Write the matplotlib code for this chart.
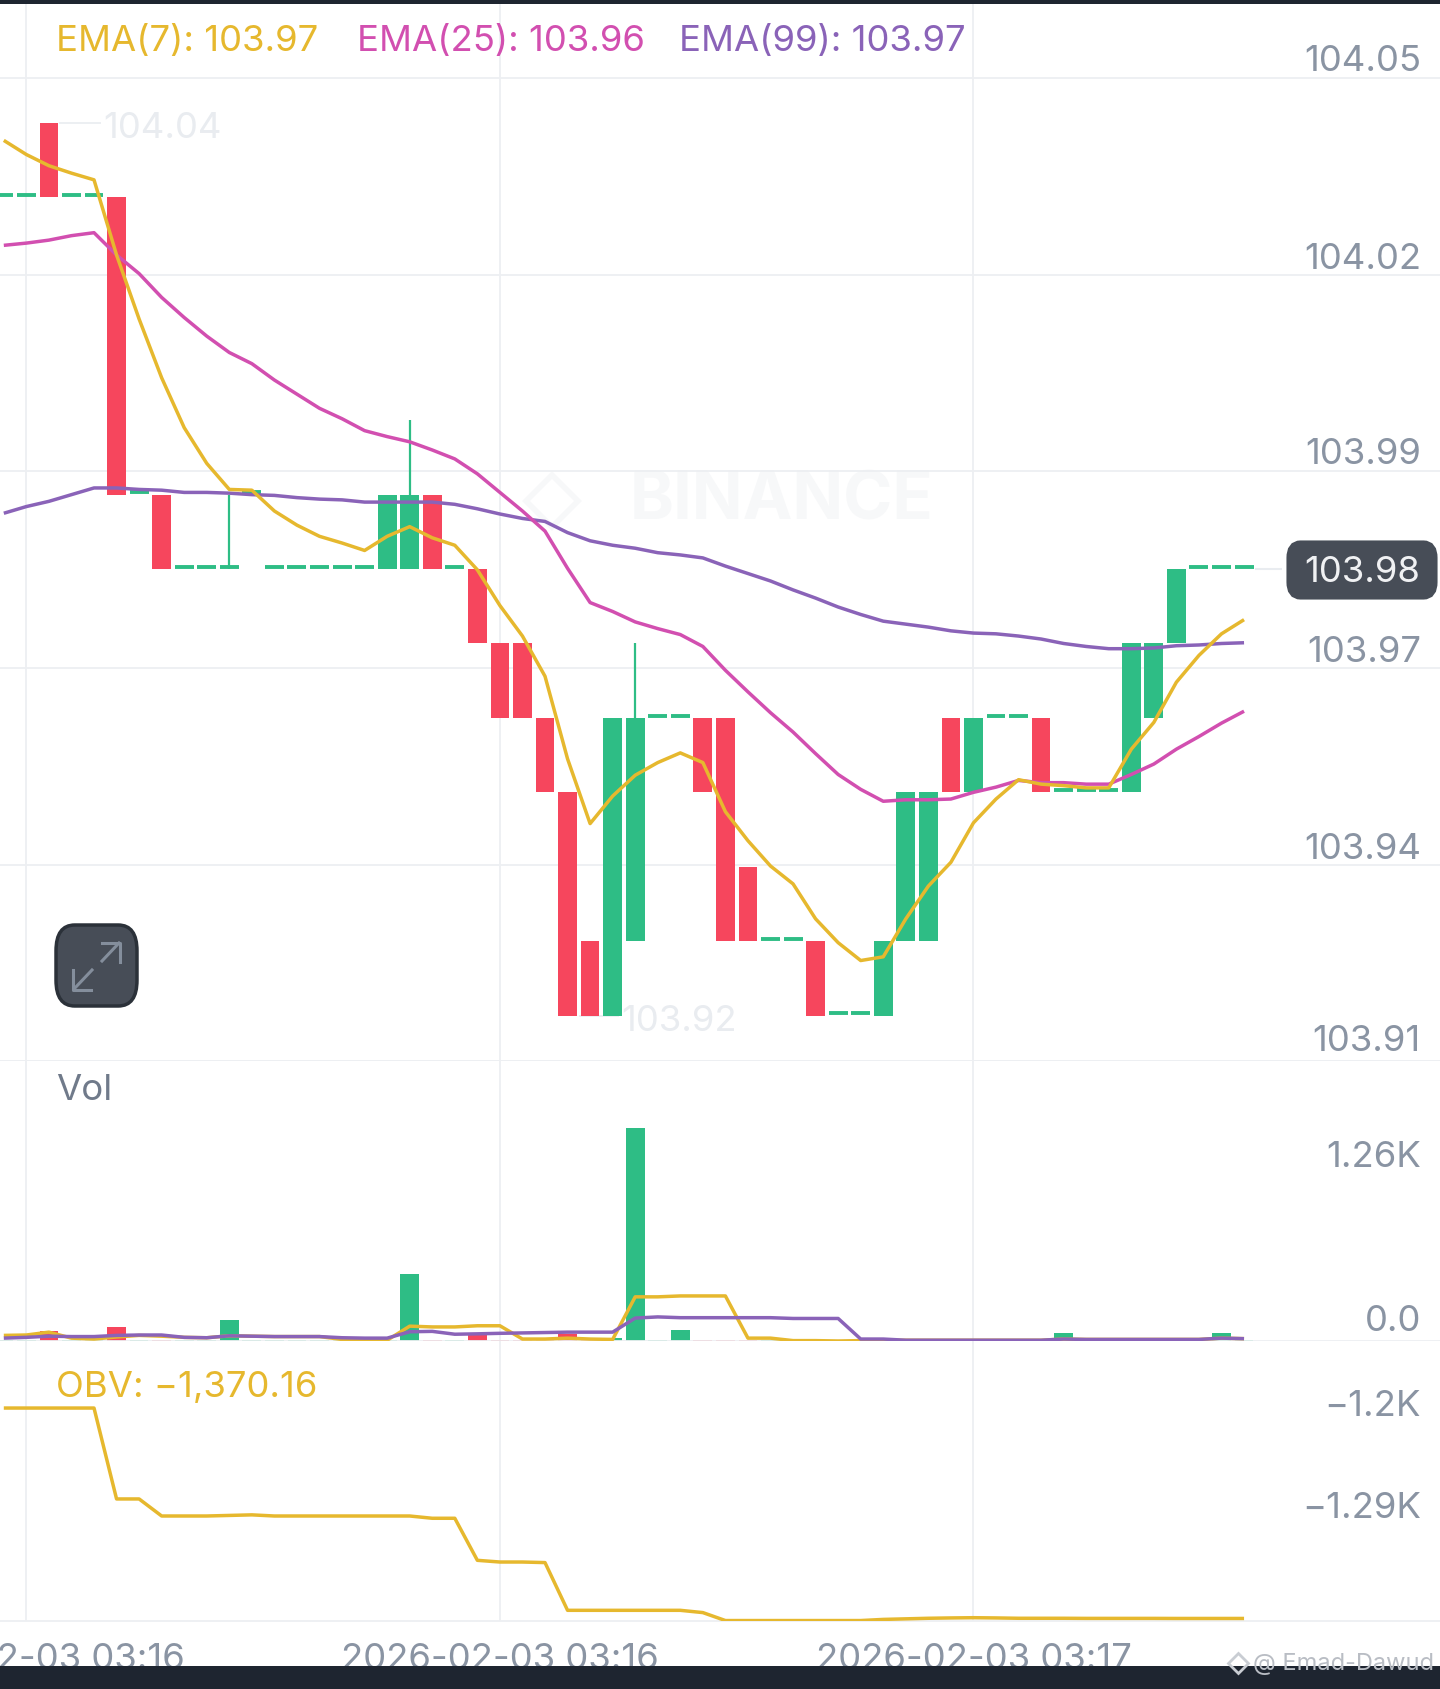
import matplotlib
matplotlib.use("Agg")
import matplotlib.pyplot as plt
from matplotlib.patches import FancyBboxPatch, Rectangle
from matplotlib.lines import Line2D
from matplotlib.transforms import ScaledTranslation

plt.rcParams['font.family'] = ['Inter', 'DejaVu Sans']

# candles, one per index
opens = [104.03, 104.03, 104.04, 104.03, 104.03, 104.03, 103.99, 103.99, 103.98, 103.98,
         103.98, 103.99, 103.98, 103.98, 103.98, 103.98, 103.98, 103.98, 103.98, 103.99,
         103.98, 103.98, 103.97, 103.97, 103.96, 103.95, 103.93, 103.92, 103.93, 103.96,
         103.96, 103.96, 103.96, 103.94, 103.93, 103.93, 103.93, 103.92, 103.92, 103.92,
         103.93, 103.93, 103.96, 103.95, 103.96, 103.96, 103.96, 103.95, 103.95, 103.95,
         103.95, 103.96, 103.97, 103.98, 103.98, 103.98]
closes = [104.03, 104.03, 104.03, 104.03, 104.03, 103.99, 103.99, 103.98, 103.98, 103.98,
          103.98, 103.99, 103.98, 103.98, 103.98, 103.98, 103.98, 103.99, 103.99, 103.98,
          103.98, 103.97, 103.96, 103.96, 103.95, 103.92, 103.92, 103.96, 103.96, 103.96,
          103.96, 103.95, 103.93, 103.93, 103.93, 103.93, 103.92, 103.92, 103.92, 103.93,
          103.95, 103.95, 103.95, 103.96, 103.96, 103.96, 103.95, 103.95, 103.95, 103.95,
          103.97, 103.97, 103.98, 103.98, 103.98, 103.98]
wick_idx = [10, 18, 28]
wick_low = [103.98, 103.99, 103.96]
wick_high = [103.99, 104.00, 103.97]

ema7 = [104.0376, 104.0357, 104.0342, 104.0332, 104.0323, 104.0222, 104.0136, 104.0057, 103.9990, 103.9942,
        103.9907, 103.9906, 103.9878, 103.9859, 103.9844, 103.9835, 103.9825, 103.9844, 103.9857, 103.9842,
        103.9832, 103.9799, 103.9751, 103.9710, 103.9656, 103.9545, 103.9458, 103.9495, 103.9523, 103.9540,
        103.9553, 103.9540, 103.9474, 103.9435, 103.9401, 103.9377, 103.9330, 103.9298, 103.9274, 103.9279,
        103.9330, 103.9374, 103.9406, 103.9459, 103.9491, 103.9517, 103.9511, 103.9509, 103.9506, 103.9506,
        103.9558, 103.9594, 103.9648, 103.9684, 103.9713, 103.9732]
ema25 = [104.0235, 104.0238, 104.0242, 104.0248, 104.0252, 104.0222, 104.0197, 104.0165, 104.0138, 104.0113,
         104.0091, 104.0076, 104.0054, 104.0035, 104.0016, 104.0002, 103.9986, 103.9978, 103.9971, 103.9960,
         103.9948, 103.9928, 103.9903, 103.9878, 103.9851, 103.9801, 103.9755, 103.9743, 103.9729, 103.9720,
         103.9712, 103.9696, 103.9664, 103.9635, 103.9607, 103.9581, 103.9552, 103.9524, 103.9504, 103.9488,
         103.9490, 103.9490, 103.9491, 103.9500, 103.9507, 103.9516, 103.9513, 103.9513, 103.9511, 103.9511,
         103.9524, 103.9538, 103.9558, 103.9575, 103.9593, 103.9609]
ema99 = [103.9875, 103.9884, 103.9891, 103.9900, 103.9909, 103.9909, 103.9907, 103.9906, 103.9903, 103.9903,
         103.9902, 103.9900, 103.9899, 103.9896, 103.9894, 103.9893, 103.9890, 103.9890, 103.9890, 103.9890,
         103.9887, 103.9881, 103.9874, 103.9868, 103.9864, 103.9849, 103.9838, 103.9832, 103.9828, 103.9822,
         103.9819, 103.9815, 103.9804, 103.9794, 103.9784, 103.9772, 103.9761, 103.9749, 103.9739, 103.9730,
         103.9726, 103.9722, 103.9717, 103.9714, 103.9713, 103.9710, 103.9706, 103.9700, 103.9696, 103.9693,
         103.9693, 103.9694, 103.9697, 103.9698, 103.9700, 103.9701]

# volume panel
volume = [5, 5, 74, 5, 5, 105, 5, 10, 5, 5,
          160, 5, 5, 5, 5, 5, 5, 10, 515, 10,
          5, 52, 10, 10, 10, 52, 10, 20, 1636, 5,
          83, 5, 5, 5, 5, 5, 5, 5, 5, 5,
          5, 5, 5, 5, 5, 5, 5, 60, 5, 5,
          5, 5, 5, 5, 62, 5]
vol_ma_yellow = [43, 46, 68, 22, 15, 31, 43, 37, 28, 25,
                 40, 37, 34, 34, 34, 12, 3, 6, 114, 108,
                 108, 117, 117, 15, 15, 22, 15, 12, 339, 339,
                 346, 346, 346, 22, 22, 3, 3, 0, 3, 6,
                 6, 6, 6, 6, 6, 6, 6, 15, 12, 12,
                 12, 12, 12, 12, 22, 18]
vol_ma_purple = [22, 28, 37, 34, 34, 43, 46, 46, 28, 25,
                 40, 37, 34, 34, 34, 25, 22, 22, 71, 74,
                 52, 55, 59, 62, 65, 68, 68, 68, 176, 185,
                 179, 179, 179, 179, 179, 173, 173, 173, 15, 15,
                 6, 6, 6, 6, 6, 6, 6, 15, 12, 12,
                 12, 12, 12, 12, 22, 18]

# OBV panel
obv = [-1185, -1185, -1185, -1185, -1185, -1265, -1265, -1280, -1280, -1280,
       -1279.5, -1279, -1280, -1280, -1280, -1280, -1280, -1280, -1280, -1282,
       -1282, -1319, -1320.5, -1320.5, -1321, -1363, -1363, -1363, -1363, -1363,
       -1363, -1365, -1372, -1372, -1372, -1372, -1372, -1372, -1372, -1371,
       -1370.5, -1370, -1369.7, -1369.5, -1369.7, -1370, -1370, -1370, -1370.1, -1370.1,
       -1370.1, -1370.1, -1370.16, -1370.16, -1370.16, -1370.16]

price_ticks = [103.9139, 103.9402, 103.9667, 103.9932, 104.0195, 104.046]
price_labels = ['103.91', '103.94', '103.97', '103.99', '104.02', '104.05']
vol_ticks = [0, 1260]
vol_labels = ['0.0', '1.26K']
obv_ticks = [-1290, -1200]
obv_labels = ['\u22121.29K', '\u22121.2K']
time_ticks = [1, 22, 43]
time_labels = ['2026-02-03 03:16', '2026-02-03 03:16', '2026-02-03 03:17']

RED = '#F6465D'
GREEN = '#2EBD85'
YELLOW = '#E6B82E'
PINK = '#D24FB0'
PURPLE = '#8A63B8'
GRID = '#EDEFF2'
AXTEXT = '#8A94A3'
FAINT = '#E9ECF0'
DARK = '#474D57'
BAR = '#1E2530'
W, H = 1440, 1690
FS = 26.3
LW = 2.5

fig = plt.figure(figsize=(W / 100, H / 100), dpi=100, facecolor='white')


def panel(top, bottom):
    return fig.add_axes([0, 1 - bottom / H, 1, (bottom - top) / H])


def fx(x):
    return x / W


def fy(y):
    return 1 - y / H


def shift_px(px):
    return ScaledTranslation(0, px / 100, fig.dpi_scale_trans)


ax = panel(0, 1062)
ax_vol = panel(1062, 1342)
ax_obv = panel(1342, 1622)

xs = list(range(len(closes)))

# candles
for i in xs:
    o, c = opens[i], closes[i]
    if o == c:
        ax.hlines(c + 0.0003, i - 0.42, i + 0.42, color=GREEN, lw=2.8, zorder=2)
    else:
        ax.bar(i, abs(c - o), bottom=min(o, c), width=0.83, color=GREEN if c > o else RED, zorder=2)
for i, lo, hi in zip(wick_idx, wick_low, wick_high):
    ax.vlines(i, lo, hi, color=GREEN, lw=1.6, zorder=2)

ax.plot(xs, ema99, color=PURPLE, lw=LW, zorder=3, solid_capstyle='butt')
ax.plot(xs, ema25, color=PINK, lw=LW, zorder=4, solid_capstyle='butt')
ax.plot(xs, ema7, color=YELLOW, lw=LW, zorder=5, solid_capstyle='butt')

ax.set_ylim(103.9139, 104.0566)
ax.set_yticks(price_ticks)
ax.set_yticklabels(price_labels)

# high / low markers, last price line
ax.hlines(104.04, 2.45, 4.3, color=FAINT, lw=1.2, zorder=1)
ax.text(4.4, 104.0394, '104.04', color=FAINT, fontsize=FS, va='center', ha='left')
ax.hlines(103.92, 25.5, 27.3, color=FAINT, lw=1.2, zorder=1)
ax.text(27.4, 103.9194, '103.92', color=FAINT, fontsize=FS, va='center', ha='left')
ax.hlines(103.98, 55.5, 56.7, color=FAINT, lw=1.5, zorder=1)
ax.text(34.5, 103.9892, 'BINANCE', color='#F7F8F9', fontsize=48, fontweight='bold',
        ha='center', va='center', zorder=0.5)
ax.plot([24.3], [103.9892], marker='D', ms=26, mfc='none', mec='#F7F8F9', mew=4, zorder=0.5)

# volume
ax_vol.bar(xs, volume, width=0.83,
           color=[GREEN if closes[i] >= opens[i] else RED for i in xs], zorder=2)
ax_vol.plot(xs, vol_ma_yellow, color=YELLOW, lw=LW, zorder=3, solid_capstyle='butt')
ax_vol.plot(xs, vol_ma_purple, color=PURPLE, lw=LW, zorder=4, solid_capstyle='butt')
ax_vol.set_ylim(0, 2150)
ax_vol.set_yticks(vol_ticks)
ax_vol.set_yticklabels(vol_labels)

# obv
ax_obv.plot(xs, obv, color=YELLOW, lw=LW, zorder=3, solid_capstyle='butt')
ax_obv.set_ylim(-1372.4, -1126)
ax_obv.set_yticks(obv_ticks)
ax_obv.set_yticklabels(obv_labels)

for a in (ax, ax_vol, ax_obv):
    a.set_xlim(-0.169, 63.69)
    a.set_xticks(time_ticks)
    a.set_xticklabels([])
    a.yaxis.tick_right()
    a.tick_params(axis='both', length=0)
    a.tick_params(axis='y', pad=-19 * 0.72, labelsize=FS, labelcolor=AXTEXT)
    for k, lab in enumerate(a.get_yticklabels()):
        lab.set_ha('right')
        lab.set_va('center')
        # price labels sit closer to their gridline, except the lowest one
        up = 17 if a is ax and k > 0 else 20
        lab.set_transform(lab.get_transform() + shift_px(up))
    a.grid(axis='x', color=GRID, lw=1.3, zorder=0)
    a.set_axisbelow(True)
    for s in a.spines.values():
        s.set_visible(False)
    a.spines['bottom'].set_visible(True)
    a.spines['bottom'].set_color(GRID)
    a.spines['bottom'].set_linewidth(1.3)
ax.grid(axis='y', color=GRID, lw=1.3, zorder=0)

ax_obv.set_xticklabels(time_labels)
ax_obv.tick_params(axis='x', pad=15, labelsize=FS, labelcolor=AXTEXT)

# indicator captions
fig.text(fx(56), fy(42), 'EMA(7): 103.97', color=YELLOW, fontsize=FS, va='center')
fig.text(fx(357), fy(42), 'EMA(25): 103.96', color=PINK, fontsize=FS, va='center')
fig.text(fx(679), fy(42), 'EMA(99): 103.97', color=PURPLE, fontsize=FS, va='center')
fig.text(fx(56), fy(1091), 'Vol', color='#707A8A', fontsize=FS, va='center')
fig.text(fx(56), fy(1388), 'OBV: \u22121,370.16', color=YELLOW, fontsize=FS, va='center')

# last price badge
fig.add_artist(FancyBboxPatch((fx(1292), fy(595)), 140 / W, 48 / H,
                              boxstyle='round,pad=0,rounding_size=0.006', mutation_aspect=H / W,
                              transform=fig.transFigure, fc=DARK, ec=DARK, lw=8, zorder=6))
fig.text(fx(1362), fy(573), '103.98', color='#F0F1F3', fontsize=FS, ha='center', va='center', zorder=7)

# expand button
fig.add_artist(FancyBboxPatch((fx(56), fy(1007)), 81 / W, 81 / H,
                              boxstyle='round,pad=0,rounding_size=0.013', mutation_aspect=H / W,
                              transform=fig.transFigure, fc=DARK, ec='#2B3139', lw=2.5, zorder=6))
for x0, y0, x1, y1 in [(74, 990, 92, 971), (102, 962, 119, 944)]:
    fig.add_artist(Line2D([fx(x0), fx(x1)], [fy(y0), fy(y1)], color='#848E9C', lw=2.2, zorder=7))
fig.add_artist(Line2D([fx(73), fx(73), fx(91)], [fy(971), fy(991), fy(991)], color='#848E9C', lw=2.2, zorder=7))
fig.add_artist(Line2D([fx(102), fx(120), fx(120)], [fy(944), fy(944), fy(963)], color='#848E9C', lw=2.2, zorder=7))

# phone chrome top and bottom
fig.add_artist(Rectangle((0, fy(5)), 1, 5 / H, transform=fig.transFigure, fc=BAR, ec='none', zorder=8))
fig.add_artist(Rectangle((0, 0), 1, 23 / H, transform=fig.transFigure, fc=BAR, ec='none', zorder=8))
fig.add_artist(Line2D([fx(1238)], [fy(1664)], marker='D', ms=10, mfc='none', mec='#C9CDD3', mew=2, zorder=9))
fig.text(fx(1434), fy(1664), '@ Emad-Dawud', color='#B9BDC4', fontsize=17, ha='right', va='center', zorder=9)

fig.savefig('out.png', dpi=100, facecolor='white')
